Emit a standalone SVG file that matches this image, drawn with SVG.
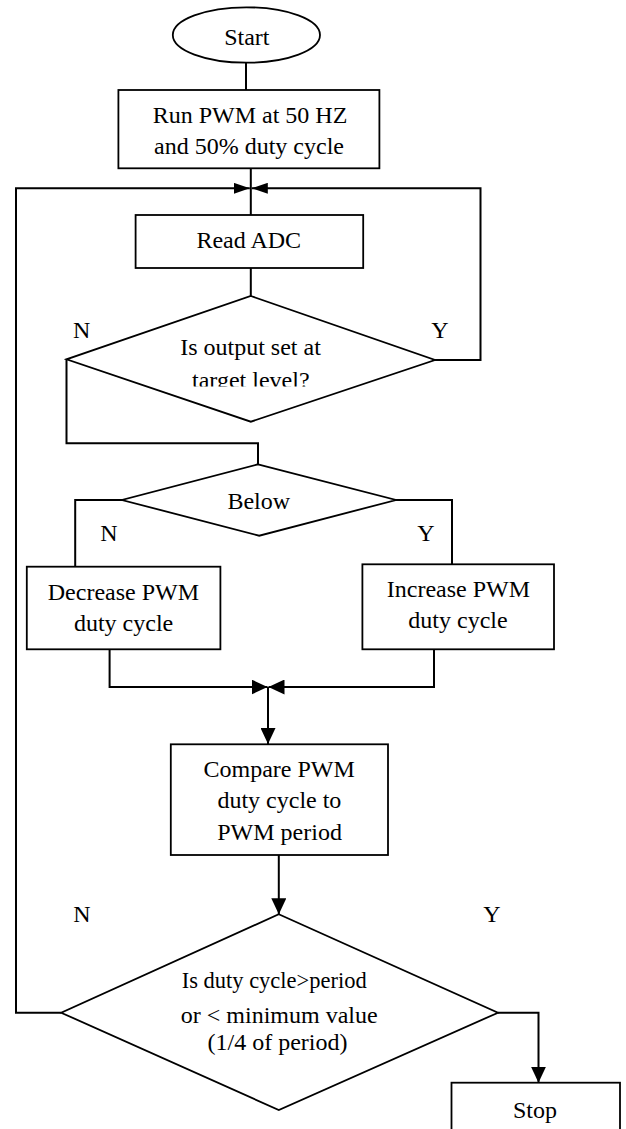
<svg xmlns="http://www.w3.org/2000/svg" width="626" height="1129" viewBox="0 0 626 1129">
<style>
.shape{fill:#fff;stroke:#000;stroke-width:1.8}
.conn{fill:none;stroke:#000;stroke-width:2}
.t{font-family:"Liberation Serif","Times New Roman",serif;font-size:24px;fill:#000;text-anchor:middle}
</style>
<defs>
<marker id="arrS" markerUnits="userSpaceOnUse" markerWidth="16" markerHeight="11" refX="16" refY="5.5" orient="auto">
<path d="M0,0 L16,5.5 L0,11 z" fill="#000"/>
</marker>
<marker id="arrL" markerUnits="userSpaceOnUse" markerWidth="16" markerHeight="15" refX="16" refY="7.5" orient="auto">
<path d="M0,0 L16,7.5 L0,15 z" fill="#000"/>
</marker>
<clipPath id="clipTarget"><rect x="0" y="360" width="626" height="26.5"/></clipPath>
</defs>

<g id="connectors">
<path class="conn" d="M246,62.7 V90"/>
<path class="conn" d="M250.8,168.3 V215"/>
<path class="conn" d="M61.2,1012.7 H16 V188.3 H249.8" marker-end="url(#arrS)"/>
<path class="conn" d="M435,360 H480.5 V188.3 H251.8" marker-end="url(#arrS)"/>
<path class="conn" d="M250.8,268 V296"/>
<path class="conn" d="M66.5,359.3 V443.3 H258 V464.3"/>
<path class="conn" d="M122,500 H75.2 V566.7"/>
<path class="conn" d="M396,500 H452 V564.3"/>
<path class="conn" d="M109.6,649.3 V687 H267.5" marker-end="url(#arrL)"/>
<path class="conn" d="M434,649.3 V687 H268.5" marker-end="url(#arrL)"/>
<path class="conn" d="M268,687 V744" marker-end="url(#arrL)"/>
<path class="conn" d="M278.8,855 V914.3" marker-end="url(#arrL)"/>
<path class="conn" d="M498,1012.7 H538.5 V1082.7" marker-end="url(#arrL)"/>
</g>

<g id="start">
<ellipse class="shape" cx="246.4" cy="35" rx="73.6" ry="27.7"/>
<text class="t" x="246.8" y="45">Start</text>
</g>

<g id="run-pwm">
<rect class="shape" x="118.4" y="90" width="261" height="78.3"/>
<text class="t" x="250" y="123.3">Run PWM at 50 HZ</text>
<text class="t" x="249" y="154">and 50% duty cycle</text>
</g>

<g id="read-adc">
<rect class="shape" x="135.6" y="215" width="227.6" height="53"/>
<text class="t" x="248.8" y="248.3">Read ADC</text>
</g>

<g id="target-check">
<polygon class="shape" points="250.8,296 435,360 250.8,421.7 66.5,359.3"/>
<text class="t" x="250.5" y="355">Is output set at</text>
<text class="t" x="250.8" y="388" clip-path="url(#clipTarget)">target level?</text>
</g>

<g id="below-check">
<polygon class="shape" points="258,464.3 396,500 259.2,535.7 122,500"/>
<text class="t" x="258.8" y="509">Below</text>
</g>

<g id="decrease">
<rect class="shape" x="26.8" y="566.7" width="193.6" height="82.6"/>
<text class="t" x="123.4" y="600">Decrease PWM</text>
<text class="t" x="123.6" y="630.5">duty cycle</text>
</g>

<g id="increase">
<rect class="shape" x="362.4" y="564.3" width="191.6" height="85"/>
<text class="t" x="458.4" y="596.7">Increase PWM</text>
<text class="t" x="458" y="628">duty cycle</text>
</g>

<g id="compare">
<rect class="shape" x="170.8" y="744.3" width="217.2" height="110.7"/>
<text class="t" x="279.2" y="776.7">Compare PWM</text>
<text class="t" x="279.4" y="808.3">duty cycle to</text>
<text class="t" x="279.6" y="840">PWM period</text>
</g>

<g id="limit-check">
<polygon class="shape" points="278.8,914.3 498,1012.7 278.8,1110 61.2,1012.7"/>
<text class="t" x="274.2" y="988" textLength="185" lengthAdjust="spacingAndGlyphs">Is duty cycle&gt;period</text>
<text class="t" x="279.2" y="1022.7">or &lt; minimum value</text>
<text class="t" x="277.5" y="1050">(1/4 of period)</text>
</g>

<g id="stop">
<rect class="shape" x="451.5" y="1082.7" width="168.5" height="70"/>
<text class="t" x="535" y="1118">Stop</text>
</g>

<g id="labels">
<text class="t" x="81.7" y="338.3">N</text>
<text class="t" x="440" y="338.3">Y</text>
<text class="t" x="108.8" y="540.7">N</text>
<text class="t" x="426" y="540.7">Y</text>
<text class="t" x="82" y="921.7">N</text>
<text class="t" x="492" y="921.7">Y</text>
</g>
</svg>
